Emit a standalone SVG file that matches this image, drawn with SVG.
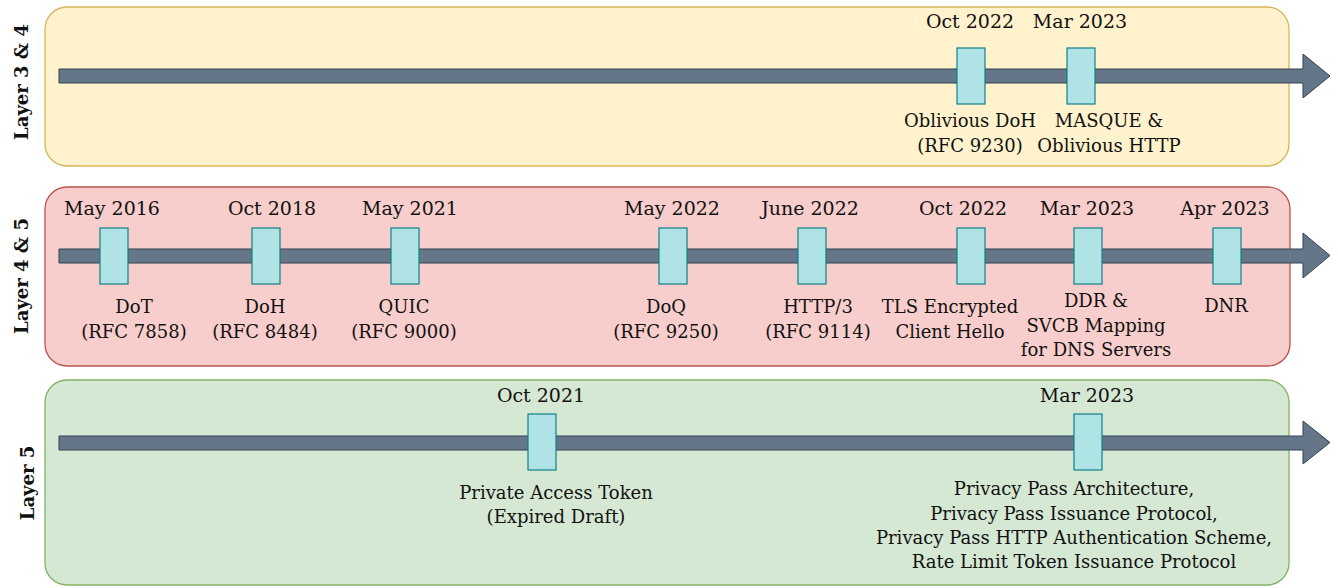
<svg xmlns="http://www.w3.org/2000/svg" width="1338" height="588" viewBox="0 0 1338 588">
<style>
.t{font-family:"DejaVu Serif","Liberation Serif",serif;font-size:18px;fill:#111;text-anchor:middle}
.d{font-size:19px}
.lay{font-family:"DejaVu Serif","Liberation Serif",serif;font-size:18px;font-weight:bold;fill:#111;text-anchor:middle}
.p1{fill:#fff2cc;stroke:#d6b656;stroke-width:1.3}
.p2{fill:#f8cecc;stroke:#b85450;stroke-width:1.3}
.p3{fill:#d5e8d4;stroke:#82b366;stroke-width:1.3}
.arr{fill:#647687;stroke:#314354;stroke-width:1}
.m{fill:#b0e3e6;stroke:#0e8088;stroke-width:1.2}
</style>
<rect width="1338" height="588" fill="#ffffff"/>
<g id="panels">
<g id="panel-l34"><rect class="p1" x="45" y="7" width="1244" height="159" rx="22"/><text class="lay" transform="translate(28,82) rotate(-90)">Layer 3 &amp; 4</text></g>
<g id="panel-l45"><rect class="p2" x="45" y="187" width="1245" height="179" rx="22"/><text class="lay" transform="translate(28,276) rotate(-90)">Layer 4 &amp; 5</text></g>
<g id="panel-l5"><rect class="p3" x="45" y="380" width="1244" height="205" rx="22"/><text class="lay" transform="translate(34,483) rotate(-90)">Layer 5</text></g>
</g>
<g id="connectors">
<path class="arr" d="M59,69 H1303 V54 L1330,76 L1303,98 V83 H59 Z"/>
<path class="arr" d="M59,249 H1303 V233 L1330,255.5 L1303,278 V263 H59 Z"/>
<path class="arr" d="M59,436 H1303 V421 L1330,442.5 L1303,464 V450 H59 Z"/>
</g>
<g id="n-odoh"><rect class="m" x="957" y="48" width="28" height="56"/><text class="t d" x="970" y="28">Oct 2022</text><text class="t" x="970" y="127">Oblivious DoH</text><text class="t" x="970" y="152">(RFC 9230)</text></g>
<g id="n-masque"><rect class="m" x="1067" y="48" width="28" height="56"/><text class="t d" x="1080" y="28">Mar 2023</text><text class="t" x="1109" y="127">MASQUE &amp;</text><text class="t" x="1109" y="152">Oblivious HTTP</text></g>
<g id="n-dot"><rect class="m" x="100" y="228" width="28" height="56"/><text class="t d" x="112" y="215">May 2016</text><text class="t" x="134" y="313">DoT</text><text class="t" x="134" y="338">(RFC 7858)</text></g>
<g id="n-doh"><rect class="m" x="252" y="228" width="28" height="56"/><text class="t d" x="272" y="215">Oct 2018</text><text class="t" x="265" y="313">DoH</text><text class="t" x="265" y="338">(RFC 8484)</text></g>
<g id="n-quic"><rect class="m" x="391" y="228" width="28" height="56"/><text class="t d" x="410" y="215">May 2021</text><text class="t" x="404" y="313">QUIC</text><text class="t" x="404" y="338">(RFC 9000)</text></g>
<g id="n-doq"><rect class="m" x="659" y="228" width="28" height="56"/><text class="t d" x="672" y="215">May 2022</text><text class="t" x="666" y="313">DoQ</text><text class="t" x="666" y="338">(RFC 9250)</text></g>
<g id="n-http3"><rect class="m" x="798" y="228" width="28" height="56"/><text class="t d" x="810" y="215">June 2022</text><text class="t" x="818" y="313">HTTP/3</text><text class="t" x="818" y="338">(RFC 9114)</text></g>
<g id="n-ech"><rect class="m" x="957" y="228" width="28" height="56"/><text class="t d" x="963" y="215">Oct 2022</text><text class="t" x="950" y="313">TLS Encrypted</text><text class="t" x="950" y="338">Client Hello</text></g>
<g id="n-ddr"><rect class="m" x="1074" y="228" width="28" height="56"/><text class="t d" x="1087" y="215">Mar 2023</text><text class="t" x="1096" y="307">DDR &amp;</text><text class="t" x="1096" y="332">SVCB Mapping</text><text class="t" x="1096" y="356">for DNS Servers</text></g>
<g id="n-dnr"><rect class="m" x="1213" y="228" width="28" height="56"/><text class="t d" x="1225" y="215">Apr 2023</text><text class="t" x="1226" y="312">DNR</text></g>
<g id="n-pat"><rect class="m" x="528" y="414" width="28" height="56"/><text class="t d" x="541" y="402">Oct 2021</text><text class="t" x="556" y="499">Private Access Token</text><text class="t" x="556" y="523">(Expired Draft)</text></g>
<g id="n-pp"><rect class="m" x="1074" y="414" width="28" height="56"/><text class="t d" x="1087" y="402">Mar 2023</text><text class="t" x="1074" y="495">Privacy Pass Architecture,</text><text class="t" x="1074" y="520">Privacy Pass Issuance Protocol,</text><text class="t" x="1074" y="544">Privacy Pass HTTP Authentication Scheme,</text><text class="t" x="1074" y="568">Rate Limit Token Issuance Protocol</text></g>
</svg>
